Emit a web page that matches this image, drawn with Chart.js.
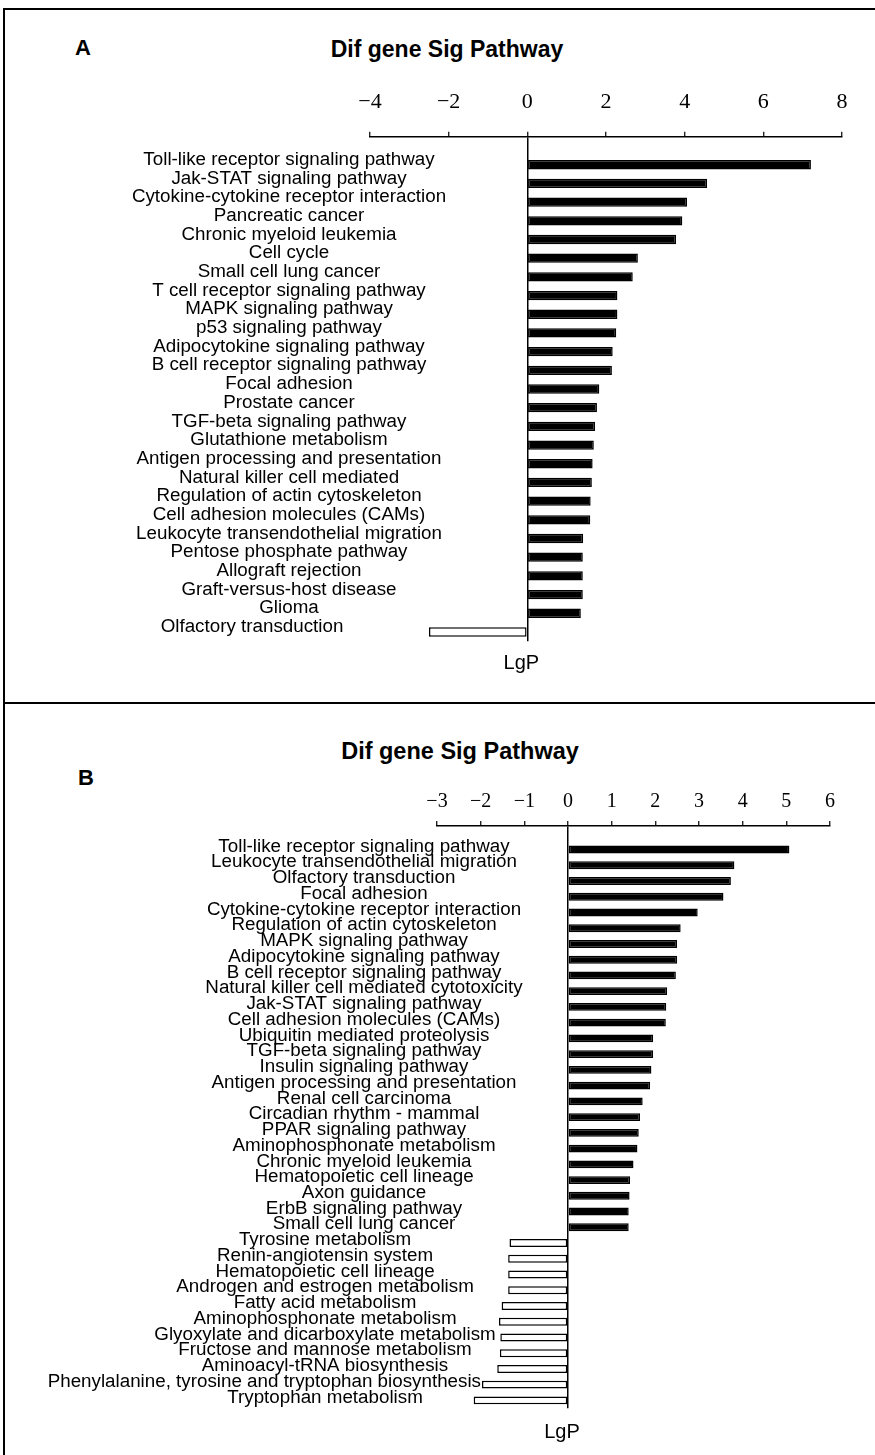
<!DOCTYPE html>
<html><head><meta charset="utf-8">
<script src="https://cdn.jsdelivr.net/npm/chart.js@4.4.1/dist/chart.umd.min.js"></script>
<style>
html,body{margin:0;padding:0;background:#fff;}
body{width:875px;height:1455px;position:relative;overflow:hidden;font-family:"Liberation Sans",Arial,sans-serif;}
.frame{position:absolute;background:#000;}
.lbl{position:absolute;font-weight:bold;color:#000;white-space:nowrap;transform:translate(-50%,-50%);line-height:1;}
canvas{position:absolute;left:0;}
</style></head><body>
<div class="frame" style="left:3px;top:8px;width:2px;height:1447px"></div>
<div class="frame" style="left:3px;top:8px;width:872px;height:2px"></div>
<div class="frame" style="left:3px;top:702px;width:872px;height:2px"></div>
<div class="lbl" style="left:83px;top:48px;font-size:22px">A</div>
<div class="lbl" style="left:447px;top:49px;font-size:23px">Dif gene Sig Pathway</div>
<div class="lbl" style="left:86px;top:778px;font-size:22px">B</div>
<div class="lbl" style="left:460px;top:752px;font-size:23.5px">Dif gene Sig Pathway</div>
<canvas id="cA" width="875" height="703" style="top:0"></canvas>
<canvas id="cB" width="875" height="752" style="top:703px"></canvas>
<script>
// ---------- Panel A data ----------
const categoriesA = [
  "Toll-like receptor signaling pathway","Jak-STAT signaling pathway","Cytokine-cytokine receptor interaction",
  "Pancreatic cancer","Chronic myeloid leukemia","Cell cycle","Small cell lung cancer",
  "T cell receptor signaling pathway","MAPK signaling pathway","p53 signaling pathway",
  "Adipocytokine signaling pathway","B cell receptor signaling pathway","Focal adhesion","Prostate cancer",
  "TGF-beta signaling pathway","Glutathione metabolism","Antigen processing and presentation",
  "Natural killer cell mediated","Regulation of actin cytoskeleton","Cell adhesion molecules (CAMs)",
  "Leukocyte transendothelial migration","Pentose phosphate pathway","Allograft rejection",
  "Graft-versus-host disease","Glioma","Olfactory transduction"
];
const valuesA = [7.21,4.57,4.06,3.94,3.78,2.81,2.68,2.29,2.29,2.26,2.17,2.15,1.83,1.77,1.72,1.69,1.66,1.64,1.61,1.60,1.42,1.41,1.41,1.41,1.36,-2.50];
const ticksA = [-4,-2,0,2,4,6,8];

// ---------- Panel B data ----------
const categoriesB = [
  "Toll-like receptor signaling pathway","Leukocyte transendothelial migration","Olfactory transduction",
  "Focal adhesion","Cytokine-cytokine receptor interaction","Regulation of actin cytoskeleton",
  "MAPK signaling pathway","Adipocytokine signaling pathway","B cell receptor signaling pathway",
  "Natural killer cell mediated cytotoxicity","Jak-STAT signaling pathway","Cell adhesion molecules (CAMs)",
  "Ubiquitin mediated proteolysis","TGF-beta signaling pathway","Insulin signaling pathway",
  "Antigen processing and presentation","Renal cell carcinoma","Circadian rhythm - mammal",
  "PPAR signaling pathway","Aminophosphonate metabolism","Chronic myeloid leukemia",
  "Hematopoietic cell lineage","Axon guidance","ErbB signaling pathway","Small cell lung cancer",
  "Tyrosine metabolism","Renin-angiotensin system","Hematopoietic cell lineage",
  "Androgen and estrogen metabolism","Fatty acid metabolism","Aminophosphonate metabolism",
  "Glyoxylate and dicarboxylate metabolism","Fructose and mannose metabolism","Aminoacyl-tRNA biosynthesis",
  "Phenylalanine, tyrosine and tryptophan biosynthesis","Tryptophan metabolism"
];
const valuesB = [5.07,3.81,3.73,3.56,2.97,2.58,2.50,2.50,2.47,2.27,2.25,2.24,1.95,1.95,1.91,1.88,1.71,1.65,1.62,1.59,1.50,1.42,1.41,1.39,1.39,
  -1.34,-1.37,-1.37,-1.37,-1.52,-1.58,-1.55,-1.56,-1.62,-1.97,-2.16];
const ticksB = [-3,-2,-1,0,1,2,3,4,5,6];

const axisTitle = "LgP";
const LABEL_FAMILY = '"Liberation Sans", Arial, sans-serif';
const LABEL_SIZE = 18.8;

const measureCtx = document.createElement('canvas').getContext('2d');
measureCtx.font = 'normal ' + LABEL_SIZE + 'px ' + LABEL_FAMILY;
const textW = s => measureCtx.measureText(s).width;
const widest = arr => arr.reduce((m, s) => Math.max(m, textW(s)), 0);

const lgpPlugin = {
  id: 'lgp',
  afterDraw(chart, args, opts){
    const ctx = chart.ctx;
    const x = chart.scales.x.getPixelForValue(0) + opts.dx;
    const y = chart.chartArea.bottom + opts.dy;
    ctx.save();
    ctx.fillStyle = '#000';
    ctx.font = '20px "Liberation Sans", Arial, sans-serif';
    ctx.textAlign = 'center';
    ctx.textBaseline = 'middle';
    ctx.fillText(axisTitle, x, y);
    ctx.restore();
  }
};

function labelAxis(labels, weight, crossAlign, padding, cfg, width){
  return {
    type: 'category', position: 'left', offset: true, weight, labels,
    display: labels.some(l => l !== ''),
    afterFit: s => { s.width = width; s.paddingTop = 0; s.paddingBottom = 0; s.paddingLeft = 0; s.paddingRight = 0; },
    grid: { display: false, drawTicks: false }, border: { display: false },
    ticks: { autoSkip: false, mirror: true, crossAlign, padding, labelOffset: cfg.labelOffset,
      color: '#000', font: { family: LABEL_FAMILY, size: LABEL_SIZE } }
  };
}

function makeChart(id, cats, vals, ticks, cfg){
  const labels = [''].concat(cats);
  const data = [null].concat(vals);
  const bg = data.map(v => (v !== null && v < 0) ? '#ffffff' : '#000000');
  const xMin = ticks[0], xMax = ticks[ticks.length - 1];
  const xRight = 875 - cfg.padRight;
  const px = v => cfg.yWidth + (v - xMin) / (xMax - xMin) * (xRight - cfg.yWidth);
  // label groups: positive bars (centred), negative bars (centred further left),
  // negative labels that would run into their bar (right-aligned at the bar end)
  const posL = labels.map((l, i) => (data[i] !== null && data[i] >= 0) ? l : '');
  const negL = [], clashL = [];
  labels.forEach((l, i) => {
    const v = data[i];
    const isNeg = v !== null && v < 0;
    const clash = isNeg && (cfg.negCenter + textW(l) / 2 > px(v) - 2);
    negL.push(isNeg && !clash ? l : '');
    clashL.push(clash ? l : '');
  });
  const padPos = cfg.posCenter - cfg.yWidth - widest(posL) / 2;   // mirrored, right edge of axis = yWidth
  const padNeg = cfg.negCenter - widest(negL) / 2;                   // outer axes sit at x = 0
  const clashRight = clashL.map((l, i) => l ? px(data[i]) - 1 : Infinity).reduce((a, b) => Math.min(a, b), Infinity);
  const padClash = (isFinite(clashRight) ? clashRight : 0) - widest(clashL);

  const yMain = labelAxis(posL, 0, 'center', padPos, cfg, cfg.yWidth);
  yMain.display = true;

  return new Chart(document.getElementById(id), {
    type: 'bar',
    data: { labels, datasets: [{ data, backgroundColor: bg, borderColor: '#000', borderWidth: 1.5,
      borderSkipped: false, barPercentage: 0.5, categoryPercentage: 1.0 }] },
    options: {
      indexAxis: 'y', responsive: false, animation: false, devicePixelRatio: 1,
      layout: { padding: { left: 0, right: cfg.padRight, top: 0, bottom: cfg.padBottom } },
      plugins: { legend: { display: false }, tooltip: { enabled: false }, title: { display: false },
        lgp: { dx: -6, dy: cfg.lgpDy } },
      scales: {
        x: {
          type: 'linear', position: 'top', min: xMin, max: xMax,
          afterBuildTicks: s => { s.ticks = ticks.map(v => ({ value: v })); },
          afterFit: s => { s.height = cfg.top; },
          grid: { drawOnChartArea: true, lineWidth: 1.5,
            color: c => (c.tick && c.tick.value === 0) ? '#000' : 'rgba(0,0,0,0)',
            drawTicks: true, tickLength: 5, tickColor: '#000', tickWidth: 1.2 },
          border: { display: true, color: '#000', width: 1.5 },
          ticks: { autoSkip: false, maxRotation: 0, padding: cfg.tickPad, color: '#000',
            font: { family: '"Liberation Serif", "Times New Roman", serif', size: cfg.tickSize },
            callback: v => v < 0 ? '\u2212' + Math.abs(v) : String(v) }
        },
        y: yMain,
        yNeg: labelAxis(negL, 2, 'center', padNeg, cfg, 0),
        yClash: labelAxis(clashL, 3, 'far', padClash, cfg, 0)
      }
    },
    plugins: [lgpPlugin]
  });
}

makeChart('cA', categoriesA, valuesA, ticksA, {
  yWidth: 370, padRight: 33, top: 136.7, padBottom: 703 - 641.3, posCenter: 289, negCenter: 252,
  tickPad: 16.5, tickSize: 22, labelOffset: -5, lgpDy: 22
});
makeChart('cB', categoriesB, valuesB, ticksB, {
  yWidth: 437, padRight: 45, top: 122.9, padBottom: 752 - 705.3, posCenter: 364, negCenter: 325,
  tickPad: 6.9, tickSize: 20, labelOffset: -3, lgpDy: 24
});
</script>
</body></html>
